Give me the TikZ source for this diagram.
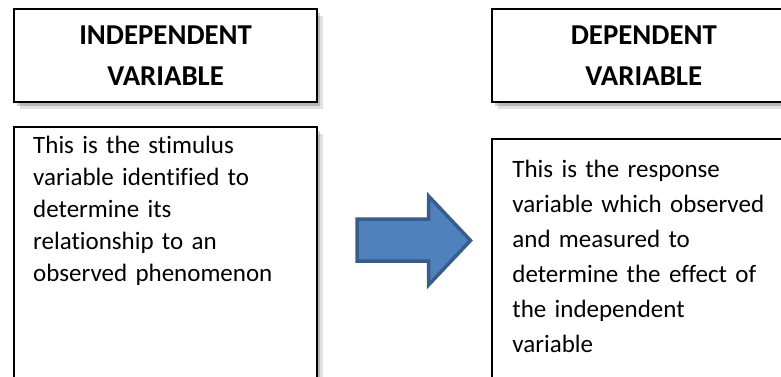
\documentclass[tikz,border=0pt]{standalone}
\usepackage{fontspec}
\setmainfont{Carlito}[Ligatures=NoCommon]
\usetikzlibrary{positioning,shadows}
\definecolor{arrowfill}{HTML}{4F81BD}
\definecolor{arrowline}{HTML}{385D8A}
\tikzset{
  softshadow/.style={
    drop shadow={shadow xshift=6pt, shadow yshift=-7pt, opacity=0.12, fill=black},
    drop shadow={shadow xshift=3pt, shadow yshift=-4pt, opacity=0.18, fill=black}},
  headbox/.style={draw, line width=2.2pt, fill=white, softshadow,
    minimum width=303pt, minimum height=93pt, text width=280pt, align=center,
    font=\fontsize{28.8}{41}\selectfont\bfseries},
  bodybox/.style={draw, line width=2.2pt, fill=white, softshadow,
    minimum width=303pt},
  bodytext/.style={anchor=north west, inner sep=0pt, text width=275pt,
    align=left, font=\fontsize{25}{35}\selectfont},
  blockarrow/.style={draw=arrowline, fill=arrowfill, line width=3.5pt}
}
\begin{document}
\begin{tikzpicture}[x=1pt, y=-1pt]
  \useasboundingbox (0,0) rectangle (781,377);

  % Title boxes
  \node[headbox, anchor=north west] (indephead) at (13,8) {INDEPENDENT\\VARIABLE};
  \node[headbox, right=173pt of indephead.north east, anchor=north west] (dephead) {DEPENDENT\\VARIABLE};

  % Description boxes
  \node[bodybox, minimum height=252pt, below=23pt of indephead.south west, anchor=north west] (indepbody) {};
  \node[bodybox, minimum height=240pt, below=35pt of dephead.south west, anchor=north west] (depbody) {};

  \node[bodytext, font=\fontsize{25}{32}\selectfont] (indeptext) at ([xshift=20pt, yshift=-10pt]indepbody.north west)
    {This is the stimulus\\variable identified to\\determine its\\relationship to an\\observed phenomenon};
  \node[bodytext] (deptext) at ([xshift=21pt, yshift=-22pt]depbody.north west)
    {This is the response\\variable which observed\\and measured to\\determine the effect of\\the independent\\variable};

  % Arrow
  \draw[blockarrow] (357,219) -- (428.5,219) -- (428.5,196) -- (470.5,240.5)
    -- (428.5,285) -- (428.5,261) -- (357,261) -- cycle;

\end{tikzpicture}
\end{document}
